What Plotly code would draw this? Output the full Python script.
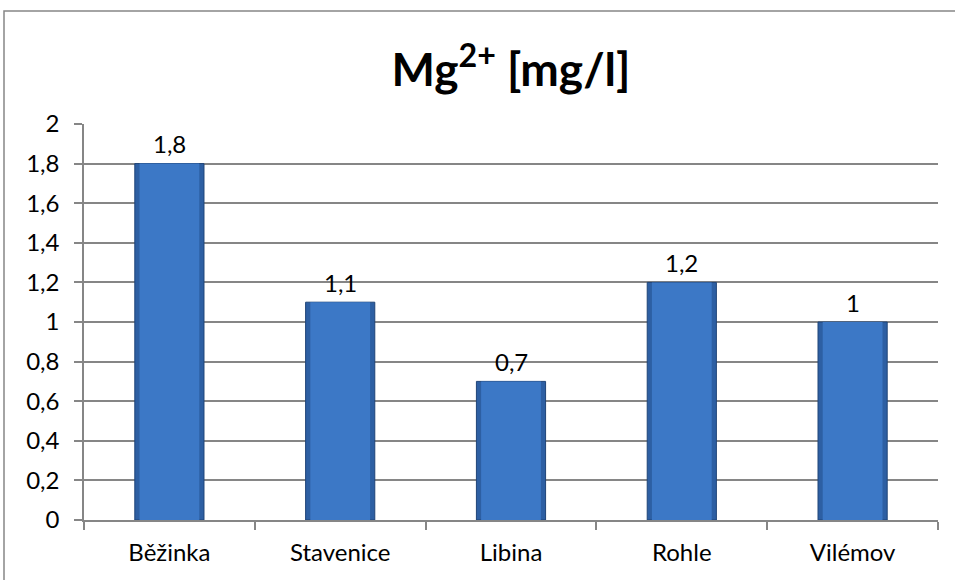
import plotly.graph_objects as go

categories = ["Běžinka", "Stavenice", "Libina", "Rohle", "Vilémov"]
values = [1.8, 1.1, 0.7, 1.2, 1.0]
labels = ["1,8", "1,1", "0,7", "1,2", "1"]
y_ticks = [0, 0.2, 0.4, 0.6, 0.8, 1, 1.2, 1.4, 1.6, 1.8, 2]
y_tick_text = ["0", "0,2", "0,4", "0,6", "0,8", "1", "1,2", "1,4", "1,6", "1,8", "2"]

W, H = 955, 580
L, R, T, B = 84, 17, 124, 60
pw, ph = W - L - R, H - T - B

def px_to_paper_x(px):
    return (px - L) / pw

def px_to_paper_y(py):
    return (H - B - py) / ph

font = "Lato, 'Open Sans', sans-serif"
grid = "#868686"

fig = go.Figure()
fig.add_trace(go.Bar(
    x=categories, y=values, width=0.405,
    marker=dict(color="#2d5fa3", line=dict(color="#1f4478", width=1)),
    hoverinfo="skip", showlegend=False,
))
fig.add_trace(go.Bar(
    x=categories, y=values, width=0.35,
    marker=dict(color="#3c78c6", line=dict(width=0)),
    hoverinfo="skip", showlegend=False,
))

annotations = [
    dict(x=c, y=v, text=t, xref="x", yref="y", showarrow=False,
         yanchor="middle", yshift=20,
         font=dict(family=font, size=24, color="#000000"))
    for c, v, t in zip(categories, values, labels)
]

fig.update_layout(
    width=W, height=H,
    margin=dict(l=L, r=R, t=T, b=B, pad=0),
    paper_bgcolor="white", plot_bgcolor="white",
    barmode="overlay",
    separators=", ",
    title=dict(
        text="<b>Mg<sup>2+</sup> [mg/l]</b>",
        x=0.5, xanchor="center", xref="paper",
        y=1 - 70 / H, yanchor="middle", yref="container",
        font=dict(family=font, size=46, color="#000000"),
    ),
    font=dict(family=font, size=24, color="#000000"),
    xaxis=dict(
        showline=True, linecolor=grid, linewidth=1.5,
        ticks="outside", ticklen=8, tickcolor=grid, tickwidth=1.5,
        tickson="boundaries", showgrid=False,
        tickfont=dict(family=font, size=24),
        ticklabelstandoff=10,
    ),
    yaxis=dict(
        range=[0, 2], tickvals=y_ticks, ticktext=y_tick_text,
        showline=True, linecolor=grid, linewidth=1.5,
        ticks="outside", ticklen=8, tickcolor=grid, tickwidth=1.5,
        showgrid=True, gridcolor=grid, gridwidth=1.5,
        zeroline=False, tickfont=dict(family=font, size=24),
        ticklabelstandoff=10,
    ),
    annotations=annotations,
    shapes=[dict(
        type="rect", xref="paper", yref="paper",
        x0=px_to_paper_x(4), x1=px_to_paper_x(970),
        y0=px_to_paper_y(600), y1=px_to_paper_y(11),
        line=dict(color=grid, width=1.5), fillcolor="rgba(0,0,0,0)",
        layer="above",
    )],
)

fig.write_html(
    "out.html",
    config={"displayModeBar": False},
    post_script="document.body.style.margin='0';document.body.style.overflow='hidden';",
)
